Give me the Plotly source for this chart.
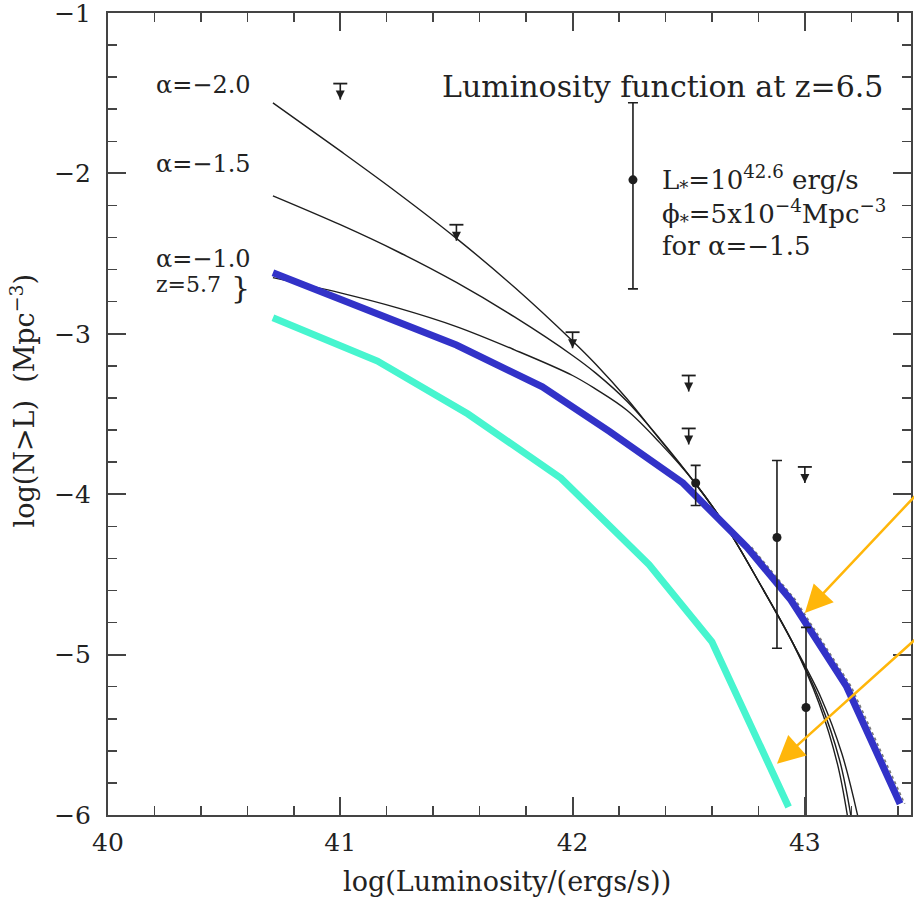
import plotly.graph_objects as go

# ---- model curves (Schechter cumulative LF at z=6.5) ----
lum_a20 = [40.71, 41.0, 41.25, 41.5, 41.75, 42.0, 42.1, 42.234, 42.376, 42.527, 42.665, 42.807, 42.949, 43.06, 43.14, 43.185]
n_a20 = [-1.56, -1.86, -2.125, -2.405, -2.71, -3.045, -3.19, -3.405, -3.66, -3.93, -4.21, -4.56, -4.93, -5.30, -5.68, -6.02]
lum_a15 = [40.71, 41.0, 41.25, 41.5, 41.75, 42.0, 42.1, 42.234, 42.376, 42.527, 42.665, 42.807, 42.949, 43.065, 43.15, 43.20]
n_a15 = [-2.14, -2.32, -2.49, -2.68, -2.895, -3.135, -3.245, -3.42, -3.655, -3.93, -4.21, -4.56, -4.93, -5.29, -5.66, -6.02]
lum_a10 = [40.71, 41.0, 41.25, 41.5, 41.75, 42.0, 42.1, 42.234, 42.376, 42.527, 42.665, 42.807, 42.949, 43.07, 43.16, 43.23]
n_a10 = [-2.65, -2.745, -2.84, -2.955, -3.10, -3.26, -3.345, -3.477, -3.68, -3.93, -4.21, -4.56, -4.93, -5.27, -5.62, -6.02]

# ---- overlaid coloured curves ----
lum_blue = [40.71, 41.50, 41.87, 42.16, 42.475, 42.75, 42.94, 43.18, 43.41]
n_blue = [-2.62, -3.07, -3.33, -3.61, -3.93, -4.33, -4.66, -5.20, -5.93]
lum_dash = [42.77, 42.96, 43.20, 43.43]
n_dash = [-4.33, -4.66, -5.20, -5.93]
lum_cyan = [40.71, 41.16, 41.55, 41.95, 42.33, 42.60, 42.93]
n_cyan = [-2.90, -3.17, -3.50, -3.90, -4.44, -4.92, -5.95]

# ---- observations ----
lim_x = [41.0, 41.5, 42.0, 42.5, 42.5, 43.0]
lim_y = [-1.44, -2.32, -2.99, -3.26, -3.59, -3.83]
pt_x = [42.26, 42.53, 42.88, 43.005]
pt_y = [-2.04, -3.93, -4.27, -5.33]
err_up = [0.48, 0.11, 0.48, 0.50]
err_dn = [0.68, 0.14, 0.69, 1.00]

# ---- orange pointer arrows (tip -> tail) ----
arrow_tip_x = [43.00, 42.88]
arrow_tip_y = [-4.74, -5.68]
arrow_tail_x = [43.625, 43.625]
arrow_tail_y = [-3.78, -4.71]

x_ticks = [40, 41, 42, 43]
y_ticks = [-1, -2, -3, -4, -5, -6]

LIM_STEM = 0.10
BLACK = '#1e1e1e'
FRAME = '#444444'
FONT = 'DejaVu Serif'

fig = go.Figure()

for lx, ly in [(lum_a20, n_a20), (lum_a15, n_a15), (lum_a10, n_a10)]:
    fig.add_trace(go.Scatter(x=lx, y=ly, mode='lines',
                             line=dict(color=BLACK, width=1.4, shape='spline', smoothing=1.0),
                             hoverinfo='skip'))

fig.add_trace(go.Scatter(x=lum_dash, y=n_dash, mode='lines',
                         line=dict(color='#777777', width=1.6, dash='dot'), hoverinfo='skip'))
fig.add_trace(go.Scatter(x=lum_blue, y=n_blue, mode='lines',
                         line=dict(color='#3232C8', width=7), hoverinfo='skip'))
fig.add_trace(go.Scatter(x=lum_cyan, y=n_cyan, mode='lines',
                         line=dict(color='#47F5CF', width=7), hoverinfo='skip'))

# upper limits: bar, stem, arrowhead
stem_x, stem_y = [], []
for x0, y0 in zip(lim_x, lim_y):
    stem_x += [x0, x0, None]
    stem_y += [y0, y0 - LIM_STEM, None]
fig.add_trace(go.Scatter(x=stem_x, y=stem_y, mode='lines',
                         line=dict(color=BLACK, width=1.6), hoverinfo='skip'))
fig.add_trace(go.Scatter(x=lim_x, y=lim_y, mode='markers',
                         marker=dict(symbol='line-ew', size=10,
                                     line=dict(color=BLACK, width=1.8)),
                         hoverinfo='skip'))
fig.add_trace(go.Scatter(x=lim_x, y=[v - LIM_STEM for v in lim_y], mode='markers',
                         marker=dict(symbol='arrow-down', size=9, color=BLACK),
                         hoverinfo='skip'))

# detections with error bars
fig.add_trace(go.Scatter(x=pt_x, y=pt_y, mode='markers',
                         marker=dict(symbol='circle', size=9, color=BLACK),
                         error_y=dict(type='data', symmetric=False, array=err_up,
                                      arrayminus=err_dn, color=BLACK, thickness=1.6, width=5),
                         hoverinfo='skip'))

ann = []
for tx, ty, ax_, ay_ in zip(arrow_tip_x, arrow_tip_y, arrow_tail_x, arrow_tail_y):
    ann.append(dict(x=tx, y=ty, ax=ax_, ay=ay_, xref='x', yref='y', axref='x', ayref='y',
                    showarrow=True, arrowhead=2, arrowsize=2.2, arrowwidth=2.5,
                    arrowcolor='#FFB60A', text=''))

lbl_font = dict(family=FONT, size=24, color='#222')
small_font = dict(family=FONT, size=22, color='#222')
txt_font = dict(family=FONT, size=26, color='#222')
ann += [
    dict(x=40.2, y=-1.45, text='α=−2.0', xanchor='left', yanchor='middle', showarrow=False, font=lbl_font),
    dict(x=40.2, y=-1.94, text='α=−1.5', xanchor='left', yanchor='middle', showarrow=False, font=lbl_font),
    dict(x=40.2, y=-2.535, text='α=−1.0', xanchor='left', yanchor='middle', showarrow=False, font=lbl_font),
    dict(x=40.2, y=-2.69, text='z=5.7', xanchor='left', yanchor='middle', showarrow=False, font=small_font),
    dict(x=40.52, y=-2.71, text='}', xanchor='left', yanchor='middle', showarrow=False,
         font=dict(family=FONT, size=30, color='#222')),
    dict(x=43.345, y=-1.46, text='Luminosity function at z=6.5', xanchor='right', yanchor='middle',
         showarrow=False, font=dict(family=FONT, size=30, color='#222')),
    dict(x=42.376, y=-2.04, text='L<sub>*</sub>=10<sup>42.6</sup> erg/s', xanchor='left', yanchor='middle',
         showarrow=False, font=txt_font),
    dict(x=42.376, y=-2.25, text='ϕ<sub>*</sub>=5x10<sup>−4</sup>Mpc<sup>−3</sup>', xanchor='left',
         yanchor='middle', showarrow=False, font=txt_font),
    dict(x=42.376, y=-2.45, text='for α=−1.5', xanchor='left', yanchor='middle', showarrow=False,
         font=txt_font),
    dict(x=0.497, y=-0.0835, xref='paper', yref='paper', text='log(Luminosity/(ergs/s))',
         xanchor='center', yanchor='middle', showarrow=False, font=dict(family=FONT, size=27, color='#222')),
    dict(x=-0.107, y=0.517, xref='paper', yref='paper', text='log(N>L)  (Mpc<sup>−3</sup>)',
         textangle=-90, xanchor='center', yanchor='middle', showarrow=False,
         font=dict(family=FONT, size=27, color='#222')),
]

axis_common = dict(ticks='inside', ticklen=18, tickwidth=2, tickcolor=FRAME,
                   minor=dict(ticks='inside', ticklen=9, tickwidth=1.5, tickcolor=FRAME, dtick=0.2),
                   showline=True, linecolor=FRAME, linewidth=2, mirror='allticks',
                   showgrid=False, zeroline=False, automargin=False, ticklabeloverflow='allow',
                   tickfont=dict(family=FONT, size=25, color='#222'))

fig.update_xaxes(range=[40, 43.457], tickmode='array', tickvals=x_ticks,
                 ticktext=[str(v) for v in x_ticks], ticklabelstandoff=4, **axis_common)
fig.update_yaxes(range=[-6, -1], tickmode='array', tickvals=y_ticks,
                 ticktext=['−' + str(-v) for v in y_ticks], ticklabelstandoff=10, **axis_common)

fig.update_layout(width=914, height=900, margin=dict(l=108, r=3, t=13, b=85),
                  plot_bgcolor='white', paper_bgcolor='white', showlegend=False,
                  annotations=ann, font=dict(family=FONT, color='#222'))

fig.write_html('out.html', config={'displayModeBar': False, 'staticPlot': True},
               post_script="document.body.style.margin='0';document.body.style.overflow='hidden';")
